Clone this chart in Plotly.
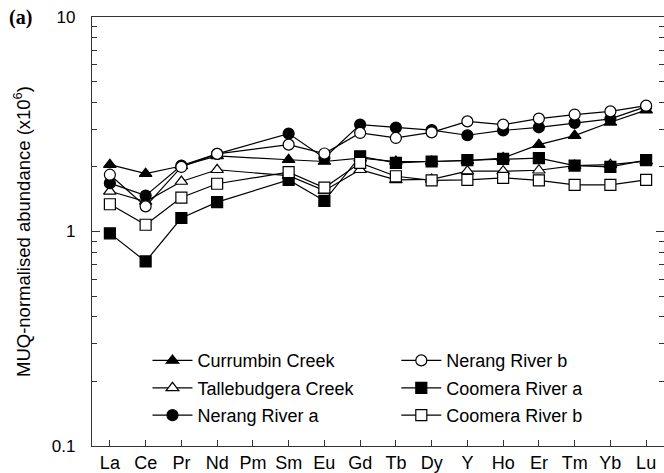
import plotly.graph_objects as go

elements = ["La", "Ce", "Pr", "Nd", "Pm", "Sm", "Eu", "Gd", "Tb", "Dy",
            "Y", "Ho", "Er", "Tm", "Yb", "Lu"]

# MUQ-normalised abundances (x10^6); Pm not determined
currumbin_creek = [2.05, 1.86, 2.02, 2.25, None, 2.16, 2.12, 2.20, 2.12, 2.12,
                   2.14, 2.20, 2.54, 2.80, 3.23, 3.68]
tallebudgera_creek = [1.54, 1.38, 1.71, 1.94, None, 1.82, 1.55, 1.94, 1.74, 1.75,
                      1.91, 1.91, 1.93, 2.03, 2.05, 2.13]
nerang_river_a = [1.68, 1.47, 2.03, 2.30, None, 2.86, 2.20, 3.15, 3.05, 2.97,
                  2.81, 2.96, 3.06, 3.21, 3.35, 3.82]
nerang_river_b = [1.84, 1.31, 2.00, 2.30, None, 2.54, 2.31, 2.88, 2.73, 2.90,
                  3.26, 3.15, 3.36, 3.51, 3.63, 3.86]
coomera_river_a = [0.98, 0.725, 1.156, 1.37, None, 1.74, 1.39, 2.24, 2.09, 2.12,
                   2.15, 2.18, 2.20, 2.03, 2.00, 2.15]
coomera_river_b = [1.34, 1.075, 1.44, 1.67, None, 1.89, 1.60, 2.09, 1.81, 1.73,
                   1.74, 1.78, 1.73, 1.65, 1.65, 1.74]

FONT = "Liberation Sans, Arial, sans-serif"

series = [
    ("Currumbin Creek", currumbin_creek, "triangle-up", "black", "legend"),
    ("Tallebudgera Creek", tallebudgera_creek, "triangle-up", "white", "legend"),
    ("Nerang River a", nerang_river_a, "circle", "black", "legend"),
    ("Nerang River b", nerang_river_b, "circle", "white", "legend2"),
    ("Coomera River a", coomera_river_a, "square", "black", "legend2"),
    ("Coomera River b", coomera_river_b, "square", "white", "legend2"),
]

fig = go.Figure()
for name, vals, sym, fill, leg in series:
    fig.add_trace(go.Scatter(
        x=elements, y=vals, name=name, mode="lines+markers",
        connectgaps=True, legend=leg, legendgroup=name,
        line=dict(color="black", width=1.2),
        marker=dict(symbol=sym, size=11, color=fill,
                    line=dict(color="black", width=1.2)),
    ))

minor_vals = [k / 10 for k in range(2, 10)] + [float(k) for k in range(2, 10)]

legend_style = dict(yanchor="top", xanchor="left", font=dict(size=18),
                    tracegroupgap=1, bgcolor="rgba(0,0,0,0)", itemwidth=40)

fig.update_layout(
    width=664, height=473,
    margin=dict(l=92, r=0, t=17, b=27),
    paper_bgcolor="white", plot_bgcolor="white",
    font=dict(family=FONT, size=17, color="black"),
    showlegend=True,
    legend=dict(x=0.097, y=0.242, **legend_style),
    legend2=dict(x=0.532, y=0.242, **legend_style),
    xaxis=dict(
        type="category", categoryorder="array", categoryarray=elements,
        range=[-0.5, 15.5], showline=True, linecolor="#333", linewidth=1.3,
        mirror=True, ticks="inside", ticklen=6, tickcolor="#333",
        showgrid=False, zeroline=False, tickfont=dict(size=18),
    ),
    yaxis=dict(
        type="log", range=[-1, 1], showline=True, linecolor="#333",
        linewidth=1.3, mirror="ticks", ticks="inside", ticklen=8,
        tickcolor="#333", tickvals=[0.1, 1, 10], ticktext=["0.1", "1", "10"],
        minor=dict(ticks="inside", ticklen=5, tickcolor="#333",
                   tickvals=minor_vals, showgrid=False),
        showgrid=False, zeroline=False, tickfont=dict(size=17),
        ticklabelstandoff=12,
        title=dict(text="MUQ-normalised abundance (x10<sup>6</sup>)",
                   font=dict(size=18.5), standoff=16),
    ),
    annotations=[dict(
        text="<b>(a)</b>", xref="paper", yref="paper", x=-0.149, y=1.0,
        xanchor="left", yanchor="middle", showarrow=False,
        font=dict(family="Liberation Serif, Times New Roman, serif", size=20),
    )],
)

fig.write_html("out.html")
